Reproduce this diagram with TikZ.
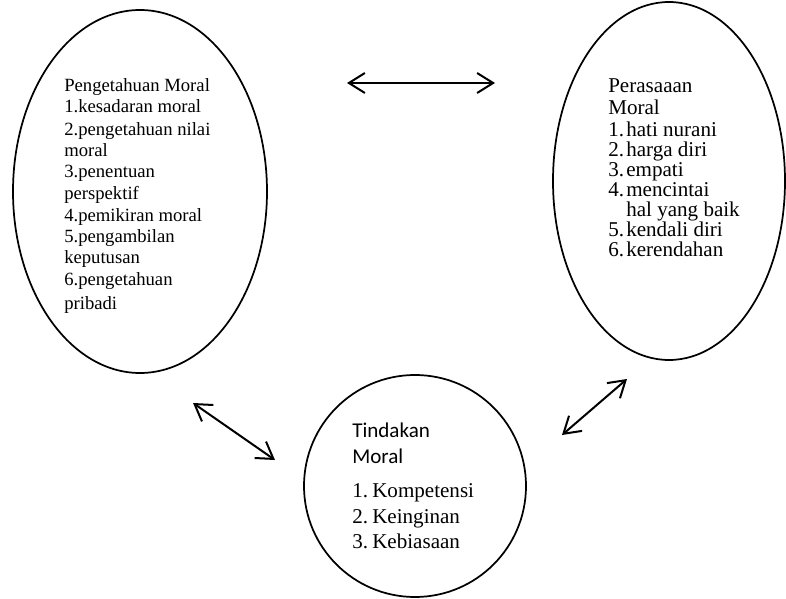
\documentclass[tikz,border=0pt]{standalone}
\usepackage{fontspec}
\setmainfont{Liberation Serif}
\newfontfamily\calib{Carlito}
\usetikzlibrary{arrows.meta,shapes.geometric}
\begin{document}
\begin{tikzpicture}[x=0.75pt,y=-0.75pt,
  shapeline/.style={draw=black,line width=1.3pt,inner sep=0pt},
  dblarrow/.style={line width=1.5pt,{Straight Barb[length=12pt,width=15pt,line width=1.5pt]}-{Straight Barb[length=12pt,width=15pt,line width=1.5pt]}},
  lt/.style={anchor=base west,inner sep=0pt,font=\fontsize{14pt}{16pt}\selectfont},
  rt/.style={anchor=base west,inner sep=0pt,font=\fontsize{15.8pt}{18pt}\selectfont},
  ct/.style={anchor=base west,inner sep=0pt,font=\fontsize{15.8pt}{18pt}\calib},
]
\useasboundingbox (0,0) rectangle (786,599);
% shapes
\node[shapeline,ellipse,minimum width=190.5pt,minimum height=272.25pt] (pm) at (140,191.5) {};
\node[shapeline,ellipse,minimum width=174pt,minimum height=268.5pt] (pr) at (669,181) {};
\node[shapeline,circle,minimum size=166.5pt] (tm) at (415,486) {};
% left text
\node[lt] (l1) at (64,92) {Pengetahuan Moral};
\node[lt] (l2) at (64,113) {1.kesadaran moral};
\node[lt] (l3) at (64,136) {2.pengetahuan nilai};
\node[lt] (l4) at (64,157) {moral};
\node[lt] (l5) at (64,178) {3.penentuan};
\node[lt] (l6) at (64,200) {perspektif};
\node[lt] (l7) at (64,222) {4.pemikiran moral};
\node[lt] (l8) at (64,243) {5.pengambilan};
\node[lt] (l9) at (64,264) {keputusan};
\node[lt] (l10) at (64,286) {6.pengetahuan};
\node[lt] (l11) at (64,310) {pribadi};
% right text
\node[rt] (r1) at (608,93) {Perasaaan};
\node[rt] (r2) at (608,115) {Moral};
\node[rt] (r3n) at (608,137) {1.};
\node[rt] (r3) at (626,137) {hati nurani};
\node[rt] (r4n) at (608,157) {2.};
\node[rt] (r4) at (626,157) {harga diri};
\node[rt] (r5n) at (608,177) {3.};
\node[rt] (r5) at (626,177) {empati};
\node[rt] (r6n) at (608,197) {4.};
\node[rt] (r6) at (626,197) {mencintai};
\node[rt] (r7) at (626,217) {hal yang baik};
\node[rt] (r8n) at (608,237) {5.};
\node[rt] (r8) at (626,237) {kendali diri};
\node[rt] (r9n) at (608,257) {6.};
\node[rt] (r9) at (626,257) {kerendahan};
% circle text
\node[ct] (c1) at (352,437) {Tindakan};
\node[ct] (c2) at (352,463) {Moral};
\node[rt] (c3n) at (352,497) {1.};
\node[rt] (c3) at (372,497) {Kompetensi};
\node[rt] (c4n) at (352,523) {2.};
\node[rt] (c4) at (372,523) {Keinginan};
\node[rt] (c5n) at (352,548) {3.};
\node[rt] (c5) at (372,548) {Kebiasaan};
% arrows
\coordinate (a1) at (347,83);
\coordinate (a2) at (495,83);
\coordinate (b1) at (193,403);
\coordinate (b2) at (275,460);
\coordinate (d1) at (627,379);
\coordinate (d2) at (562,435);
\draw[dblarrow] (a1) -- (a2);
\draw[dblarrow] (b1) -- (b2);
\draw[dblarrow] (d1) -- (d2);
\end{tikzpicture}
\end{document}
